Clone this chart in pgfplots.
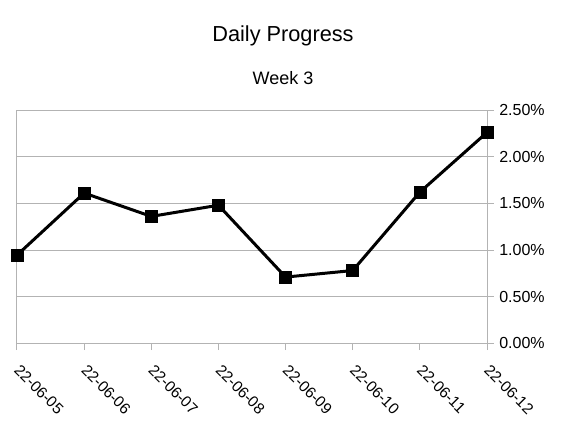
\documentclass[border=0pt]{standalone}
\usepackage{pgfplots}
\pgfplotsset{compat=1.18}
\usepackage{fontspec}
\setmainfont{Liberation Sans}
\definecolor{gridgray}{RGB}{179,179,179}
\begin{document}
\begin{tikzpicture}[x=1pt,y=1pt]
\path[use as bounding box] (0,0) rectangle (425.25,319.5);
\begin{axis}[
  at={(12.75pt,62pt)}, anchor=south west,
  scale only axis, width=352.5pt, height=175pt,
  xmin=0, xmax=7, ymin=0, ymax=2.5,
  xtick={0,...,7},
  xticklabels={22-06-05,22-06-06,22-06-07,22-06-08,22-06-09,22-06-10,22-06-11,22-06-12},
  ytick={0,0.5,...,2.5},
  yticklabel={\pgfmathprintnumber[fixed,fixed zerofill,precision=2]{\tick}\%},
  /pgf/number format/assume math mode=true,
  xtick pos=lower, ytick pos=right,
  tick align=outside, major tick length=5pt,
  axis line style={gridgray, line width=0.75pt},
  tick style={gridgray, line width=0.75pt},
  ymajorgrids, grid style={gridgray, line width=0.75pt},
  ticklabel style={font=\fontsize{12}{14}\selectfont, text=black},
  xticklabel style={font=\fontsize{11.6}{14}\selectfont, xshift=3pt, yshift=-10pt, rotate=-45, anchor=north west, inner sep=0pt},
  yticklabel style={anchor=west, inner sep=0pt, xshift=4pt},
  clip=false,
]
\addplot[black, line width=2.25pt, mark=square*, mark size=4.5pt, mark options={solid, line width=0.5pt}]
  coordinates {(0,0.945) (1,1.61) (2,1.36) (3,1.48) (4,0.71) (5,0.78) (6,1.62) (7,2.26)};
\end{axis}
\node[font=\fontsize{16.3}{19}\selectfont] at (212.25,292.5) {Daily Progress};
\node[font=\fontsize{13.5}{16}\selectfont] at (212.25,261) {Week 3};
\end{tikzpicture}
\end{document}
